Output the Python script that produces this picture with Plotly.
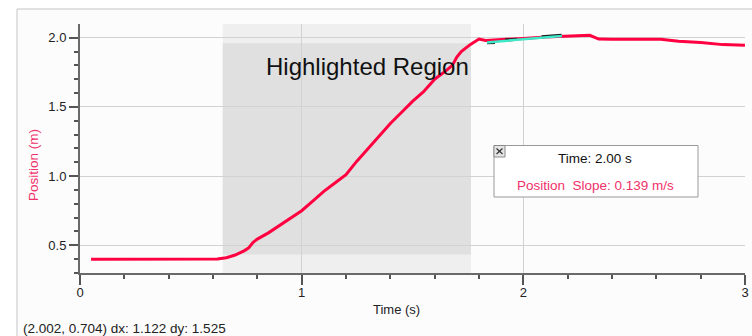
import plotly.graph_objects as go

# ---- data ----
time_s = [0.05, 0.30, 0.62, 0.66, 0.70, 0.74, 0.76, 0.78, 0.80, 0.85, 0.90, 0.95, 1.00,
          1.05, 1.10, 1.15, 1.20, 1.23, 1.25, 1.30, 1.35, 1.40, 1.45, 1.50, 1.55, 1.60,
          1.65, 1.68, 1.70, 1.72, 1.76, 1.80, 1.83, 1.90, 2.00, 2.10, 2.20, 2.28, 2.30,
          2.34, 2.40, 2.62, 2.70, 2.80, 2.90, 3.00]
position_m = [0.400, 0.400, 0.401, 0.410, 0.430, 0.460, 0.480, 0.520, 0.545, 0.590, 0.645,
              0.700, 0.750, 0.820, 0.890, 0.950, 1.010, 1.070, 1.110, 1.200, 1.290, 1.380,
              1.460, 1.540, 1.610, 1.700, 1.760, 1.800, 1.860, 1.900, 1.950, 1.990, 1.980,
              1.985, 1.995, 2.005, 2.010, 2.013, 2.017, 1.990, 1.988, 1.988, 1.975, 1.965,
              1.950, 1.945]

tangent_t = [1.836, 2.174]
tangent_y = [1.966, 2.013]
tangent_dark_t = [1.836, 1.872, None, 1.917, 1.971, None, 2.083, 2.173]
tangent_dark_y = [1.964, 1.966, None, 1.983, 1.988, None, 2.007, 2.018]

highlight_start, highlight_end = 0.644, 1.764
highlight_ymin, highlight_ymax = 0.434, 1.960

x_ticks = [0, 1, 2, 3]
y_ticks = [0.5, 1.0, 1.5, 2.0]

status_text = "(2.002, 0.704) dx: 1.122 dy: 1.525"
tip_time = "Time: 2.00 s"
tip_slope = "Position\u00a0\u00a0Slope: 0.139 m/s"

FONT = "Liberation Sans, Arial, sans-serif"
RED = "#ff0040"
LABEL_RED = "#f0306a"

# pixel helpers for paper-coordinates (plot area 80..745 x, 24..273 y)
L, R, T, B = 80, 7, 24, 63
W, H = 752, 336
PW, PH = W - L - R, H - T - B


def px(x):
    return (x - L) / PW


def py(y):
    return (H - B - y) / PH


fig = go.Figure()

fig.add_trace(go.Scatter(x=time_s, y=position_m, mode="lines",
                         line=dict(color=RED, width=3), hoverinfo="skip"))
fig.add_trace(go.Scatter(x=tangent_dark_t, y=tangent_dark_y, mode="lines",
                         line=dict(color="#1a1a1a", width=3), hoverinfo="skip"))
fig.add_trace(go.Scatter(x=tangent_t, y=tangent_y, mode="lines",
                         line=dict(color="#3ee8c8", width=2.5), hoverinfo="skip"))

shapes = [
    # outer frame
    dict(type="rect", xref="paper", yref="paper", x0=px(17), x1=px(770), y0=py(360), y1=py(9),
         line=dict(color="#c4c4c4", width=1), fillcolor="#fcfcfc", layer="below"),
    # highlighted band (full height)
    dict(type="rect", xref="x", yref="paper", x0=highlight_start, x1=highlight_end, y0=0, y1=1,
         line=dict(width=0), fillcolor="#efefef", layer="below"),
    # highlighted data region
    dict(type="rect", xref="x", yref="y", x0=highlight_start, x1=highlight_end,
         y0=highlight_ymin, y1=highlight_ymax,
         line=dict(width=0), fillcolor="#e0e0e0", layer="below"),
    # tooltip box
    dict(type="rect", xref="paper", yref="paper", x0=px(494), x1=px(698), y0=py(197), y1=py(145.5),
         line=dict(color="#9a9a9a", width=1), fillcolor="white", layer="above"),
    # close button
    dict(type="rect", xref="paper", yref="paper", x0=px(494), x1=px(505), y0=py(157), y1=py(145.5),
         line=dict(color="#8a8a8a", width=1), fillcolor="#e4e4e4", layer="above"),
    dict(type="line", xref="paper", yref="paper", x0=px(496.5), x1=px(502.5), y0=py(148.5), y1=py(154),
         line=dict(color="#333", width=1.2), layer="above"),
    dict(type="line", xref="paper", yref="paper", x0=px(496.5), x1=px(502.5), y0=py(154), y1=py(148.5),
         line=dict(color="#333", width=1.2), layer="above"),
]

annotations = [
    dict(text="Highlighted Region", xref="x", yref="y", x=highlight_end - 0.002, y=1.79,
         xanchor="right", yanchor="middle", showarrow=False,
         font=dict(family=FONT, size=24, color="#111")),
    dict(text=tip_time, xref="paper", yref="paper", x=px(595), y=py(158),
         xanchor="center", yanchor="middle", showarrow=False,
         font=dict(family=FONT, size=13.5, color="#111")),
    dict(text=tip_slope, xref="paper", yref="paper", x=px(595.5), y=py(185),
         xanchor="center", yanchor="middle", showarrow=False,
         font=dict(family=FONT, size=13.5, color=LABEL_RED)),
    dict(text="Time (s)", xref="paper", yref="paper", x=px(396), y=py(309),
         xanchor="center", yanchor="middle", showarrow=False,
         font=dict(family=FONT, size=13, color="#222")),
    dict(text="Position (m)", xref="paper", yref="paper", x=px(34), y=py(165),
         xanchor="center", yanchor="middle", showarrow=False, textangle=-90,
         font=dict(family=FONT, size=13.5, color=LABEL_RED)),
    dict(text=status_text, xref="paper", yref="paper", x=px(21), y=py(328),
         xanchor="left", yanchor="middle", showarrow=False,
         font=dict(family=FONT, size=13.5, color="#222")),
]

fig.update_layout(
    width=W, height=H,
    margin=dict(l=L, r=R, t=T, b=B, autoexpand=False),
    paper_bgcolor="white",
    plot_bgcolor="rgba(0,0,0,0)",
    showlegend=False,
    shapes=shapes,
    annotations=annotations,
    font=dict(family=FONT, size=13, color="#333"),
)

fig.update_xaxes(
    range=[0, 3], tickvals=x_ticks, ticktext=[str(v) for v in x_ticks],
    automargin=False,
    showline=True, linecolor="#6a6a6a", linewidth=2,
    ticks="outside", ticklen=10, tickwidth=1.5, tickcolor="#555",
    ticklabelstandoff=-4,
    showgrid=True, gridcolor="#d2d2d2", gridwidth=1,
    zeroline=False,
    minor=dict(dtick=0.2, tick0=0, ticks="outside", ticklen=4, tickcolor="#555", tickwidth=1.5, showgrid=False),
    tickfont=dict(family=FONT, size=13, color="#222"),
)
fig.update_yaxes(
    range=[0.300, 2.099], tickvals=y_ticks, ticktext=[f"{v:.1f}" for v in y_ticks],
    automargin=False,
    showline=True, linecolor="#6a6a6a", linewidth=2,
    ticks="outside", ticklen=9, tickwidth=1.5, tickcolor="#555",
    showgrid=True, gridcolor="#d2d2d2", gridwidth=1,
    zeroline=False,
    minor=dict(dtick=0.1, tick0=0, ticks="outside", ticklen=4, tickcolor="#555", tickwidth=1.5, showgrid=False),
    tickfont=dict(family=FONT, size=13, color="#222"),
)

fig.write_html("out.html")
